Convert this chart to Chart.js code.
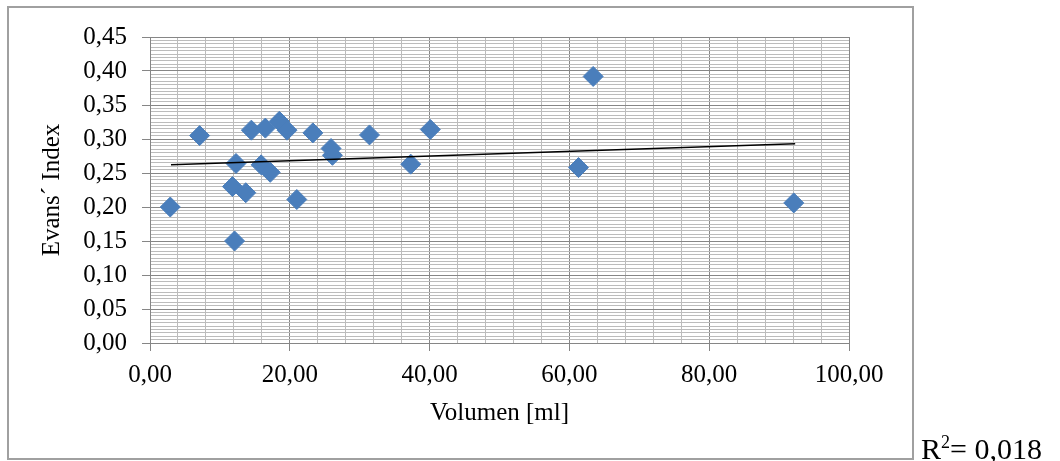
<!DOCTYPE html>
<html>
<head>
<meta charset="utf-8">
<script src="https://cdn.jsdelivr.net/npm/chart.js@4"></script>
<style>
    body { margin: 0; background: #fff; }
    #wrap { position: relative; width: 1060px; height: 461px; }
    #frame {
        position: absolute; left: 7px; top: 6px; width: 903px; height: 450px;
        border: 2px solid #a0a0a0;
    }
    #r2 {
        position: absolute; left: 921px; top: 434px;
        font-family: 'Liberation Serif', serif; font-size: 30px; line-height: 1; color: #000;
        white-space: nowrap;
    }
    #r2 sup { font-size: 18px; vertical-align: 11px; line-height: 0; }
    canvas { position: absolute; left: 0; top: 0; }
</style>
</head>
<body>
<div id="wrap">
    <div id="frame"></div>
    <canvas id="evansChart" width="1060" height="461"></canvas>
    <div id="r2">R<sup>2</sup>= 0,018</div>
</div>
<script>
// Volumen [ml] vs Evans' index
const volumen = [2.9, 7.1, 12.3, 11.8, 13.7, 12.1, 14.5, 16.5, 18.5, 19.6, 15.9,
                 17.2, 21.0, 23.3, 25.9, 26.1, 31.4, 37.3, 40.1, 63.4, 61.3, 92.1];
const evans = [0.200, 0.305, 0.264, 0.230, 0.221, 0.150, 0.313, 0.316, 0.326, 0.313, 0.262,
               0.251, 0.211, 0.309, 0.286, 0.276, 0.306, 0.263, 0.314, 0.392, 0.258, 0.206];

// linear trend line ends
const trendX = [3.0, 92.3];
const trendY = [0.262, 0.293];

const MAJOR = '#868686';
const MINOR = '#bcbcbc';

const isMajorY = v => Math.round(v * 1000) % 50 === 0;
const isMajorX = v => Math.round(v) % 20 === 0;
const fmt = v => v.toFixed(2).replace('.', ',');

Chart.defaults.font.family = "'Liberation Serif', 'Times New Roman', serif";
Chart.defaults.color = '#000';

const points = volumen.map((x, i) => ({ x, y: evans[i] }));
const trend = trendX.map((x, i) => ({ x, y: trendY[i] }));

new Chart(document.getElementById('evansChart'), {
    type: 'scatter',
    data: {
        datasets: [
            {
                label: 'Tendencia',
                data: trend,
                showLine: true,
                borderColor: '#000',
                borderWidth: 1.5,
                pointRadius: 0
            },
            {
                label: 'Evans',
                data: points,
                pointStyle: 'rectRot',
                pointRadius: 10,
                backgroundColor: '#4A7EBB',
                borderColor: '#4A7EBB',
                borderWidth: 1
            }
        ]
    },
    options: {
        responsive: false,
        animation: false,
        layout: { padding: { left: 8, top: 37, right: 211, bottom: 3 } },
        plugins: { legend: { display: false }, tooltip: { enabled: false } },
        scales: {
            x: {
                type: 'linear',
                min: 0,
                max: 100,
                afterFit: s => { s.height = 115; },
                ticks: {
                    stepSize: 4,
                    autoSkip: false,
                    maxRotation: 0,
                    minRotation: 0,
                    padding: 9,
                    font: { size: 25 },
                    callback: v => isMajorX(v) ? fmt(v) : ''
                },
                grid: {
                    color: c => (c.tick && isMajorX(c.tick.value)) ? MAJOR : MINOR,
                    tickColor: c => (c.tick && isMajorX(c.tick.value)) ? MAJOR : 'rgba(0,0,0,0)',
                    tickLength: 8
                },
                border: { color: MAJOR },
                title: {
                    display: true,
                    text: 'Volumen [ml]',
                    font: { size: 25 },
                    padding: { top: 0, bottom: 30 }
                }
            },
            y: {
                type: 'linear',
                min: 0,
                max: 0.45,
                afterFit: s => { s.width = 142; },
                ticks: {
                    stepSize: 0.005,
                    autoSkip: false,
                    padding: 15,
                    font: { size: 25 },
                    callback: v => isMajorY(v) ? fmt(v) : ''
                },
                grid: {
                    color: c => (c.tick && isMajorY(c.tick.value)) ? MAJOR : MINOR,
                    tickColor: c => (c.tick && isMajorY(c.tick.value)) ? MAJOR : 'rgba(0,0,0,0)',
                    tickLength: 8
                },
                border: { color: MAJOR },
                title: {
                    display: true,
                    text: 'Evans´ Index',
                    font: { size: 25 },
                    padding: { top: 29, bottom: 0 }
                }
            }
        }
    }
});
</script>
</body>
</html>
